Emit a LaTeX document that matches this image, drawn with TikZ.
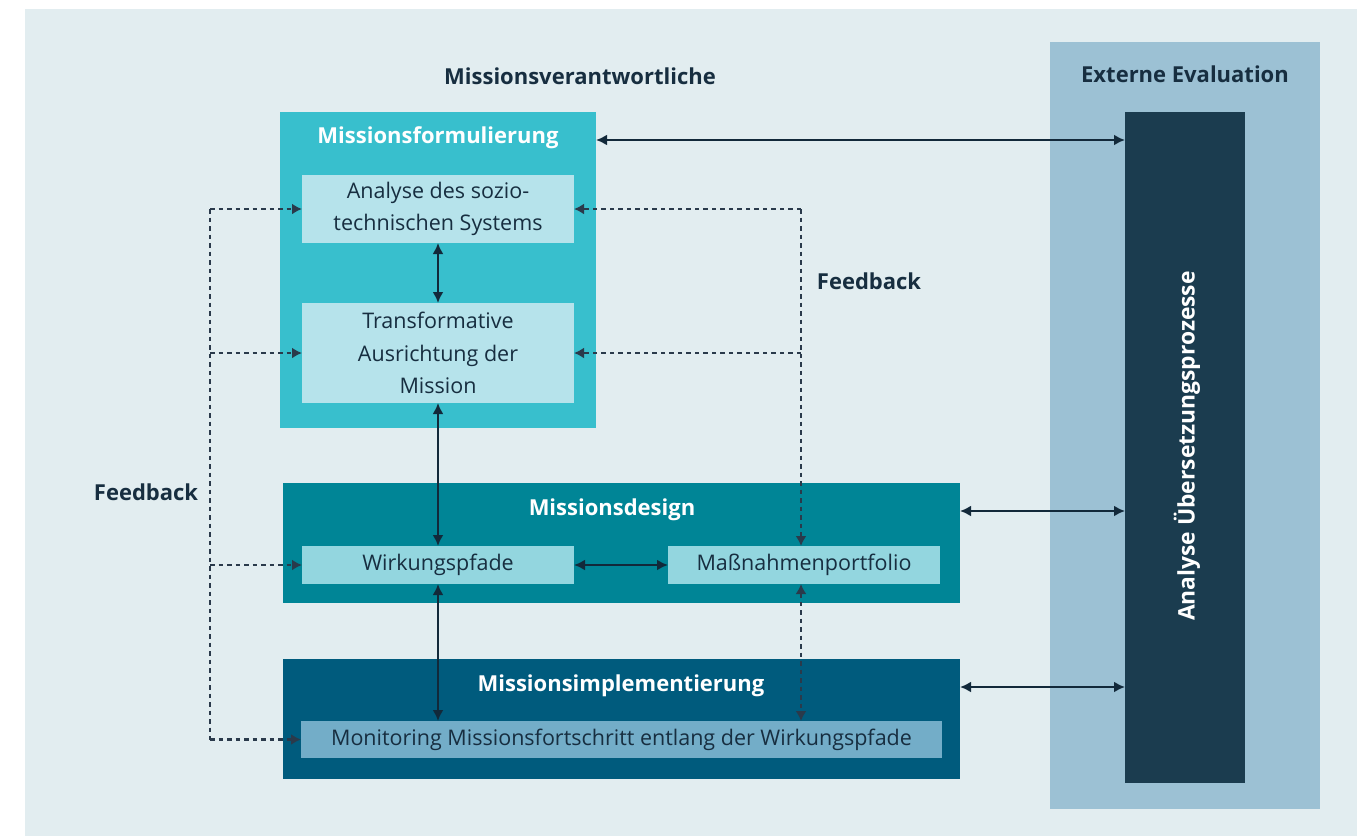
\documentclass[tikz,border=0pt]{standalone}
\usepackage{fontspec}
\setmainfont{Open Sans}
\usetikzlibrary{arrows.meta,calc}
\definecolor{bg}{HTML}{E2EDF0}
\definecolor{cform}{HTML}{38BFCD}
\definecolor{clight}{HTML}{B6E3EB}
\definecolor{cdesign}{HTML}{008596}
\definecolor{cwirk}{HTML}{93D6DF}
\definecolor{cimpl}{HTML}{005B7D}
\definecolor{cmon}{HTML}{73ADC8}
\definecolor{cext}{HTML}{9CC1D4}
\definecolor{cbar}{HTML}{1B3C4F}
\definecolor{ctext}{HTML}{172E40}
\definecolor{carrow}{HTML}{12293A}
\definecolor{cdash}{HTML}{2A3A4B}
\tikzset{
  panel/.style={inner sep=0pt, outer sep=0pt, draw=none},
  subbox/.style={panel, align=center, text=ctext, font=\fontsize{21.5}{32.5}\selectfont},
  titlewhite/.style={text=white, font=\bfseries\fontsize{22}{26}\selectfont, inner sep=0pt},
  titledark/.style={text=ctext, font=\bfseries\fontsize{22}{26}\selectfont, inner sep=0pt},
  arr/.style={draw=carrow, line width=2.8pt, {Latex[length=11pt,width=11pt]}-{Latex[length=11pt,width=11pt]}},
  dsh/.style={draw=cdash, line width=2.8pt, dash pattern=on 4.5pt off 4pt},
  dtip/.style={-{Latex[length=10pt,width=11pt]}},
  ddtip/.style={{Latex[length=10pt,width=11pt]}-{Latex[length=10pt,width=11pt]}}
}
\begin{document}
\begin{tikzpicture}[x=1pt,y=-1pt]
\useasboundingbox (0,0) rectangle (1370,836);
\fill[bg] (25,9) rectangle (1357,836);

% external evaluation
\node[panel, fill=cext, minimum width=270pt, minimum height=767pt] (ext) at (1185,425.5) {};
\node[titledark] (text) at (1185,74) {Externe Evaluation};
\node[panel, fill=cbar, minimum width=120pt, minimum height=671pt] (bar) at (1185,447.5) {};
\node[rotate=90, text=white, font=\bfseries\fontsize{22.8}{26}\selectfont, inner sep=0pt] (tbar) at (1187,446) {Analyse Übersetzungsprozesse};

% title
\node[titledark] (tmv) at (580,76) {Missionsverantwortliche};

% Missionsformulierung
\node[panel, fill=cform, minimum width=316pt, minimum height=316pt] (form) at (438,270) {};
\node[titlewhite] (tform) at (438,138) {Missionsformulierung};
\node[subbox, fill=clight, minimum width=272pt, minimum height=68pt] (ana) at (438,209) {Analyse des sozio-\\technischen Systems};
\node[subbox, fill=clight, minimum width=272pt, minimum height=100pt] (trans) at (438,353) {Transformative\\Ausrichtung der\\Mission};

% Missionsdesign
\node[panel, fill=cdesign, minimum width=677pt, minimum height=120pt] (design) at (621.5,543) {};
\node[titlewhite] (tdesign) at (612,510) {Missionsdesign};
\node[subbox, fill=cwirk, minimum width=272pt, minimum height=38pt] (wirk) at (438,565) {Wirkungspfade};
\node[subbox, fill=cwirk, minimum width=272pt, minimum height=38pt] (mass) at (804,565) {Maßnahmenportfolio};

% Missionsimplementierung
\node[panel, fill=cimpl, minimum width=677pt, minimum height=120pt] (impl) at (621.5,719) {};
\node[titlewhite] (timpl) at (621,686) {Missionsimplementierung};
\node[subbox, fill=cmon, minimum width=641pt, minimum height=37pt] (mon) at (621.5,739.5) {Monitoring Missionsfortschritt entlang der Wirkungspfade};

% feedback labels
\node[titledark] (fbl) at (146,492) {Feedback};
\node[titledark] (fbr) at (869,281) {Feedback};

% solid arrows
\draw[arr] (form.east |- 0,140) -- (bar.west |- 0,140);
\draw[arr] (design.east |- 0,511) -- (bar.west |- 0,511);
\draw[arr] (impl.east |- 0,687) -- (bar.west |- 0,687);
\draw[arr] (ana.south) -- (trans.north);
\draw[arr] (trans.south) -- (wirk.north);
\draw[arr] (wirk.south) -- (wirk.south |- mon.north);
\draw[arr] (wirk.east) -- (mass.west);

% right feedback
\coordinate (fr) at ([xshift=-3pt]mass.north |- ana.east);
\draw[dsh,dtip] (fr) -- (ana.east);
\draw[dsh,dtip] (fr |- trans.east) -- (trans.east);
\draw[dsh,dtip] (fr) -- (fr |- mass.north);
\draw[dsh,ddtip] (fr |- mass.south) -- (fr |- mon.north);

% left feedback
\coordinate (fl) at (210,209);
\draw[dsh] (fl) -- (fl |- mon.west);
\draw[dsh,dtip] (fl) -- (ana.west);
\draw[dsh,dtip] (fl |- trans.west) -- (trans.west);
\draw[dsh,dtip] (fl |- wirk.west) -- (wirk.west);
\draw[dsh,dtip] (fl |- mon.west) -- (mon.west);
\end{tikzpicture}
\end{document}
